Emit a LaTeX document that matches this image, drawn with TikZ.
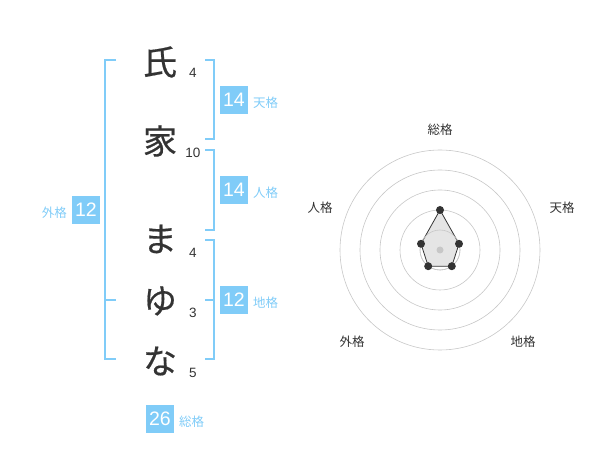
\documentclass[tikz,border=0pt]{standalone}
\usepackage{fontspec}
\setmainfont{Noto Sans CJK JP}
\newfontfamily\kanafont{Noto Sans CJK JP}[BoldFont={Noto Sans CJK JP}, BoldFeatures={FakeBold=0.5}]
\newfontfamily\numfont{Liberation Sans}
\definecolor{skyb}{RGB}{128,204,248}
\definecolor{inkc}{RGB}{51,51,51}
\begin{document}
\begin{tikzpicture}[x=1pt,y=-1pt,
  kana/.style={font=\kanafont\bfseries\fontsize{34}{36}\selectfont, text=inkc, inner sep=0pt},
  strokes/.style={font=\numfont\fontsize{13.5}{14}\selectfont, text=inkc, inner sep=0pt},
  scorebox/.style={fill=skyb, text=white, minimum width=28pt, minimum height=28pt, inner sep=0pt, font=\numfont\fontsize{19.5}{20}\selectfont},
  kaku/.style={text=skyb, inner sep=0pt, font=\fontsize{12.5}{13}\selectfont},
  brk/.style={draw=skyb, line width=2pt},
  ring/.style={draw=black!22, line width=0.6pt},
  axlab/.style={text=inkc, inner sep=0pt, font=\fontsize{12.5}{13}\selectfont},
  vdot/.style={circle, fill=inkc, minimum size=8pt, inner sep=0pt}]
\path[use as bounding box] (0,0) rectangle (600,470);
% characters
\node[kana] (k1) at (160,62) {氏};
\node[kana] (k2) at (160,141) {家};
\node[kana] (k3) at (160,239) {ま};
\node[kana] (k4) at (160,301) {ゆ};
\node[kana] (k5) at (160,361) {な};
\node[strokes] (s1) at (193,73) {4};
\node[strokes] (s2) at (193,153) {10};
\node[strokes] (s3) at (193,253) {4};
\node[strokes] (s4) at (193,313) {3};
\node[strokes] (s5) at (193,373) {5};
% brackets
\draw[brk] (116,60) -- (105,60) -- (105,359) -- (116,359);
\draw[brk] (105,300) -- (116,300);
\draw[brk] (205,60) -- (214,60) -- (214,139) -- (205,139);
\draw[brk] (205,150) -- (214,150) -- (214,230) -- (205,230);
\draw[brk] (205,240) -- (214,240) -- (214,359) -- (205,359);
\draw[brk] (205,300) -- (214,300);
% score boxes
\node[scorebox] (b1) at (234,100) {14};
\node[kaku, anchor=west] (l1) at (253,103) {天格};
\node[scorebox] (b2) at (234,190) {14};
\node[kaku, anchor=west] (l2) at (253,193) {人格};
\node[scorebox] (b3) at (234,300) {12};
\node[kaku, anchor=west] (l3) at (253,303) {地格};
\node[scorebox] (b4) at (86,210) {12};
\node[kaku, anchor=east] (l4) at (67,213) {外格};
\node[scorebox] (b5) at (160,419) {26};
\node[kaku, anchor=west] (l5) at (179,422) {総格};
% radar
\coordinate (c) at (440,250);
\foreach \r in {20,40,60,80,100} \draw[ring] (c) circle[radius=\r];
\coordinate (p1) at (440,210);
\coordinate (p2) at (459.0,243.8);
\coordinate (p3) at (451.8,266.2);
\coordinate (p4) at (428.2,266.2);
\coordinate (p5) at (421.0,243.8);
\fill[black!10] (p1) -- (p2) -- (p3) -- (p4) -- (p5) -- cycle;
\draw[inkc, line width=0.8pt] (p1) -- (p2) -- (p3) -- (p4) -- (p5) -- cycle;
\draw[ring] (c) circle[radius=20];
\fill[black!22] (c) circle[radius=3.5];
\foreach \p in {p1,p2,p3,p4,p5} \node[vdot] at (\p) {};
\node[axlab] (a1) at (440,130) {総格};
\node[axlab] (a2) at (562,208) {天格};
\node[axlab] (a3) at (320,208) {人格};
\node[axlab] (a4) at (352,342) {外格};
\node[axlab] (a5) at (523,342) {地格};
\end{tikzpicture}
\end{document}
